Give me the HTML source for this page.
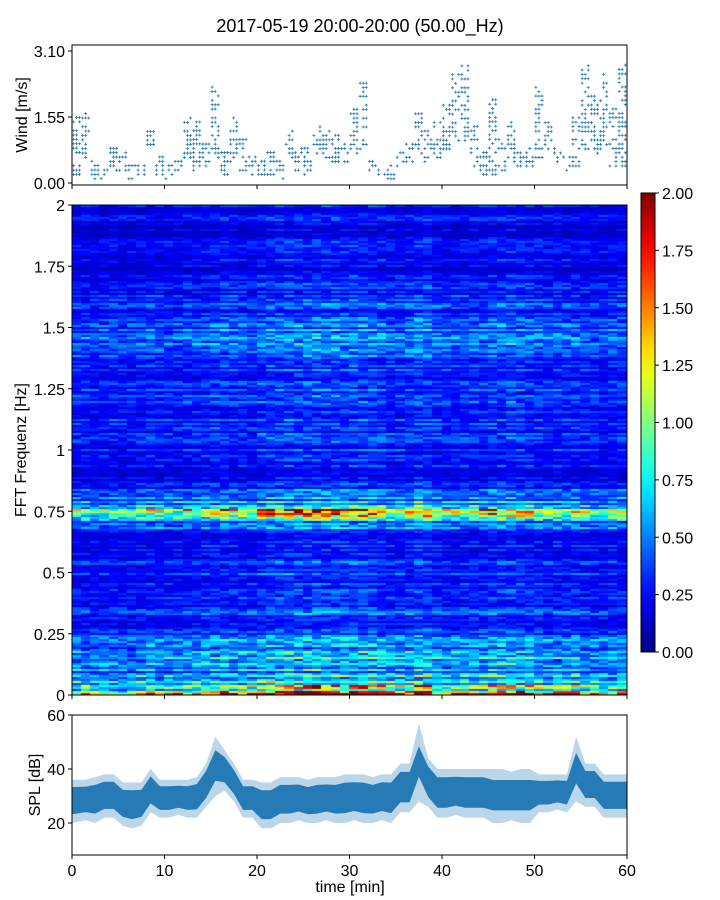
<!DOCTYPE html>
<html><head><meta charset="utf-8"><style>
body{margin:0;background:#fff;}
#wrap{position:relative;width:720px;height:900px;font-family:"Liberation Sans","DejaVu Sans",sans-serif;}
</style></head><body>
<div id="wrap">
<canvas id="spec" width="555" height="490" style="position:absolute;left:72px;top:205px;"></canvas>
<svg id="svg" width="720" height="900" style="position:absolute;left:0;top:0;"></svg>
</div>
<script>
const windLow=[0.2,0.6,0.1,0.1,0.3,0.3,0.1,0.2,0.8,0.2,0.1,0.2,0.6,0.3,0.4,0.5,0.2,0.5,0.3,0.2,0.1,0.2,0.1,0.6,0.3,0.2,0.7,0.6,0.4,0.5,0.7,0.8,0.2,0.1,0.1,0.4,0.5,0.7,0.5,0.6,0.8,1.0,1.0,0.4,0.2,0.1,0.3,0.5,0.4,0.4,0.6,0.8,0.5,0.3,0.4,0.8,0.7,0.8,0.4,0.4];
const windHigh=[1.6,1.7,0.6,0.5,0.9,0.8,0.5,0.5,1.3,0.7,0.5,0.6,1.6,1.5,1.0,2.3,0.8,1.6,1.1,0.7,0.6,0.8,0.6,1.3,0.9,0.9,1.4,1.3,1.2,1.0,1.8,2.4,0.6,0.4,0.5,0.8,1.0,1.7,1.3,1.5,1.9,2.6,2.8,1.4,0.8,2.0,1.1,1.5,0.8,1.0,2.3,1.5,0.9,0.7,1.6,2.9,2.1,2.6,1.8,2.8];
const splLow=[20,21,20,22,22,19,18,19,24,22,22,23,22,22,26,30,32,28,22,22,18,18,20,20,21,20,20,21,20,20,21,20,20,21,20,24,24,28,26,22,22,23,22,22,22,20,20,21,20,20,24,24,25,24,28,26,26,22,22,22];
const splHigh=[36,36,37,38,38,35,35,35,40,36,36,36,36,37,42,52,47,42,36,36,35,35,37,37,37,36,37,37,37,38,38,38,37,38,38,42,42,57,44,40,40,40,40,40,40,40,40,39,40,40,38,38,38,38,52,42,42,38,38,38];
const freqProfile=[1.2,0.6,0.45,0.48,0.42,0.38,0.32,0.28,0.26,0.26,0.3,0.26,0.24,0.26,0.5,0.85,0.38,0.28,0.25,0.25,0.25,0.26,0.28,0.28,0.28,0.28,0.28,0.3,0.34,0.37,0.37,0.34,0.28,0.26,0.24,0.22,0.21,0.2,0.2,0.21,0.24];
const colGain=[1.0,1.0,0.95,0.95,1.0,0.95,0.95,1.0,1.05,1.0,1.0,1.0,1.05,1.05,1.1,1.15,1.15,1.1,1.1,1.05,1.2,1.25,1.25,1.3,1.3,1.3,1.35,1.3,1.3,1.25,1.3,1.3,1.25,1.2,1.1,1.1,1.15,1.3,1.3,1.1,1.05,1.05,1.1,1.1,1.1,1.2,1.2,1.25,1.2,1.15,1.1,1.05,1.1,1.1,1.1,1.05,1.0,1.0,1.05,1.05];
const xTicks=[0,10,20,30,40,50,60];
const windTicks=[0,1.55,3.10];
const splTicks=[20,40,60];
const specTicks=[0,0.25,0.5,0.75,1,1.25,1.5,1.75,2];
const specTickLabels=['0','0.25','0.5','0.75','1','1.25','1.5','1.75','2'];
const cbTicks=[0,0.25,0.5,0.75,1,1.25,1.5,1.75,2];

const NS='http://www.w3.org/2000/svg';
const svg=document.getElementById('svg');
const X0=72,X1=627;
const xS=t=>X0+(X1-X0)*t/60;
const wY=v=>183-(183-51)*v/3.10;
const sY=v=>823-(823-769)*(v-20)/20;
const fY=f=>695-490*f/2;
const cY=v=>652-459*v/2;
const FS=16;
function el(tag,attrs,parent){const e=document.createElementNS(NS,tag);for(const k in attrs)e.setAttribute(k,attrs[k]);(parent||svg).appendChild(e);return e;}
function txt(x,y,s,anchor,size,parent){const t=el('text',{x:x,y:y,'text-anchor':anchor,'font-size':size,fill:'#000','font-family':'Liberation Sans, DejaVu Sans, sans-serif'},parent);t.textContent=s;return t;}
function h(a,b){let n=(a*374761393+b*668265263)|0;n=(n^(n>>>13))*1274126177|0;return ((n^(n>>>16))>>>0)/4294967296;}

function jet(v){v=Math.max(0,Math.min(1,v));
 const r=Math.max(0,Math.min(1,1.5-Math.abs(4*v-3)));
 const g=Math.max(0,Math.min(1,1.5-Math.abs(4*v-2)));
 const b=Math.max(0,Math.min(1,1.5-Math.abs(4*v-1)));
 return [Math.round(r*255),Math.round(g*255),Math.round(b*255)];}

const title=txt(360,32,'2017-05-19 20:00-20:00 (50.00_Hz)','middle',18);



// wind
const wg=el('g',{});


for(let m=0;m<60;m++){
 for(let k=0;k<3;k++){
  const t=m+k*0.33+0.15;
  const lo=windLow[m],hi=windHigh[m];
  let j=0;
  for(let v=lo;v<=hi+0.001;v+=0.103){
   j++;
   if(h(m*7+k,j)<0.45) continue;
   const x=xS(t),y=wY(v);
   const p=el('path',{d:`M${x-1.5},${y}h3M${x},${y-1.5}v3`,stroke:'#1f77b4','stroke-width':0.8},wg);
   
   
  }
 }
}
const wf=el('rect',{x:X0,y:45,width:X1-X0,height:140,fill:'none',stroke:'#000','stroke-width':1});


windTicks.forEach(v=>{el('line',{x1:X0-4,x2:X0,y1:wY(v),y2:wY(v),stroke:'#000'});
 const t=txt(X0-7,wY(v)+6,v.toFixed(2),'end',FS);});
xTicks.forEach(v=>el('line',{x1:xS(v),x2:xS(v),y1:185,y2:189,stroke:'#000'}));
const wl=txt(0,0,'Wind [m/s]','middle',FS);wl.setAttribute('transform','translate(27,115) rotate(-90)');


// spectrogram
const cv=document.getElementById('spec'),ctx=cv.getContext('2d');
const ROWS=245,COLS=60;
for(let r=0;r<ROWS;r++){
 const f=(r+0.5)*2/ROWS;const fi=f/0.05;const i0=Math.floor(fi),fr=fi-i0;
 const base=freqProfile[i0]*(1-fr)+freqProfile[Math.min(40,i0+1)]*fr;
 const rowN=0.55+0.9*h(r,999);
 for(let c=0;c<COLS;c++){
  let g=colGain[c];
  let v=base*g*rowN*(0.6+0.8*h(r,c));
  if(base>0.7) v*=g;
  const [R,G,B]=jet(v/2);
  ctx.fillStyle=`rgb(${R},${G},${B})`;
  const x0=Math.floor(c*555/COLS),x1=Math.floor((c+1)*555/COLS);
  const y0=Math.floor(490-(r+1)*490/ROWS),y1=Math.floor(490-r*490/ROWS);
  ctx.fillRect(x0,y0,x1-x0,y1-y0);
 }
}
const sf=el('rect',{x:X0,y:205,width:X1-X0,height:490,fill:'none',stroke:'#000','stroke-width':1});

specTicks.forEach((v,i)=>{el('line',{x1:X0-4,x2:X0,y1:fY(v),y2:fY(v),stroke:'#000'});
 const t=txt(X0-7,fY(v)+6,specTickLabels[i],'end',FS);});
xTicks.forEach(v=>el('line',{x1:xS(v),x2:xS(v),y1:695,y2:699,stroke:'#000'}));
const fl=txt(0,0,'FFT Frequenz [Hz]','middle',FS);fl.setAttribute('transform','translate(26,450) rotate(-90)');


// colorbar
const defs=el('defs',{});const lg=el('linearGradient',{id:'jetg',x1:0,y1:1,x2:0,y2:0},defs);
for(let i=0;i<=20;i++){const [R,G,B]=jet(i/20);el('stop',{offset:i/20,'stop-color':`rgb(${R},${G},${B})`},lg);}
const cb=el('rect',{x:641,y:193,width:14,height:459,fill:'url(#jetg)',stroke:'#000','stroke-width':1});

cbTicks.forEach(v=>{el('line',{x1:655,x2:659,y1:cY(v),y2:cY(v),stroke:'#000'});
 const t=txt(662,cY(v)+6,v.toFixed(2),'start',FS);});

// SPL
const sg=el('g',{});

const ptsHi=[],ptsLo=[],inHi=[],inLo=[];
for(let m=0;m<60;m++){
 const x=m===0?X0:(m===59?X1:xS(m+0.5));
 ptsHi.push(`${x},${sY(splHigh[m])}`);ptsLo.unshift(`${x},${sY(splLow[m])}`);
 const mid=(splHigh[m]+splLow[m])/2,sp=Math.min(splHigh[m]-splLow[m],18)*0.33;
 inHi.push(`${x},${sY(mid+sp)}`);inLo.unshift(`${x},${sY(mid-sp*0.9)}`);
}
const ob=el('polygon',{points:ptsHi.concat(ptsLo).join(' '),fill:'#1f77b4','fill-opacity':0.3},sg);

const ib=el('polygon',{points:inHi.concat(inLo).join(' '),fill:'#1f77b4','fill-opacity':0.95},sg);

const pf=el('rect',{x:X0,y:715,width:X1-X0,height:140,fill:'none',stroke:'#000','stroke-width':1});

splTicks.forEach(v=>{el('line',{x1:X0-4,x2:X0,y1:sY(v),y2:sY(v),stroke:'#000'});
 const t=txt(X0-7,sY(v)+6,String(v),'end',FS);});
xTicks.forEach(v=>{el('line',{x1:xS(v),x2:xS(v),y1:855,y2:859,stroke:'#000'});
 const t=txt(xS(v),876,String(v),'middle',FS);});
const sl=txt(0,0,'SPL [dB]','middle',FS);sl.setAttribute('transform','translate(40,785) rotate(-90)');

const xl=txt(350,892,'time [min]','middle',FS);

</script>
</body></html>
